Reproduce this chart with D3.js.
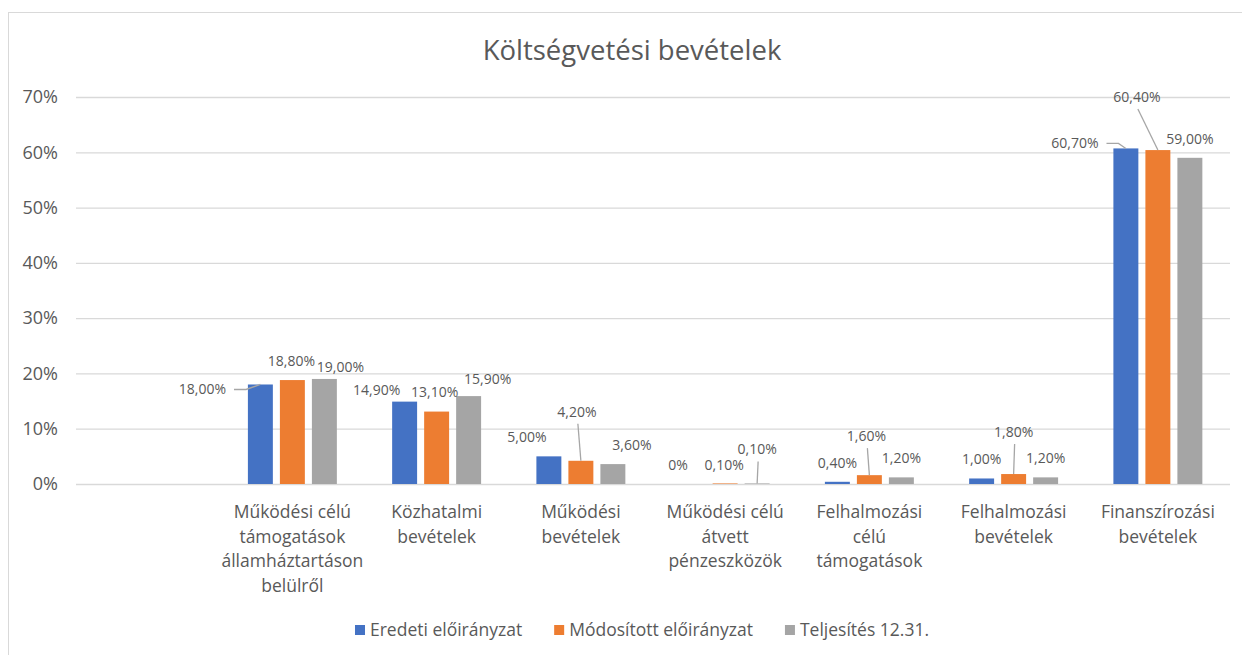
<!DOCTYPE html>
<html lang="hu">
<head>
  <meta charset="UTF-8">
  <title>Költségvetési bevételek</title>
  <style>
    body { margin: 0; background: #fff; }
    svg { display: block; font-family: "Open Sans", sans-serif; }
  </style>
  <script src="https://d3js.org/d3.v7.min.js"></script>
</head>
<body>
  <svg width="1242" height="655"></svg>
  <script>
    // adatok
    const categories = [
      "",
      "Működési célú\ntámogatások\nállamháztartáson\nbelülről",
      "Közhatalmi\nbevételek",
      "Működési\nbevételek",
      "Működési célú\nátvett\npénzeszközök",
      "Felhalmozási\ncélú\ntámogatások",
      "Felhalmozási\nbevételek",
      "Finanszírozási\nbevételek"
    ];
    const seriesNames = ["Eredeti előirányzat", "Módosított előirányzat", "Teljesítés 12.31."];
    const eredeti    = [null, 18.0, 14.9, 5.0, 0,   0.4, 1.0, 60.7];
    const modositott = [null, 18.8, 13.1, 4.2, 0.1, 1.6, 1.8, 60.4];
    const teljesites = [null, 19.0, 15.9, 3.6, 0.1, 1.2, 1.2, 59.0];
    const yTicks = [0, 10, 20, 30, 40, 50, 60, 70];

    // kézzel elmozgatott címkék eltolása (dx, dy) a sáv tetejéhez képest
    const labelShift = {
      "0-1": [-58, 5], "1-1": [-1, -19], "2-1": [16, -12],
      "0-2": [-28, -12], "1-2": [-2, -19], "2-2": [19, -17],
      "0-3": [-22, -19], "1-3": [-4, -49], "2-3": [19, -19],
      "0-4": [-15, -19], "1-4": [-1, -18], "2-4": [0, -34],
      "1-5": [-3, -39], "1-6": [0, -42],
      "0-7": [-51, -5], "1-7": [-21, -53]
    };

    const colors = ["#4472C4", "#ED7D31", "#A5A5A5"];
    const textColor = "#595959";

    const svg = d3.select("svg");
    const margin = { left: 76, right: 12, top: 97, bottom: 171 };
    const width = 1242, height = 655;

    // keret
    svg.append("rect")
      .attr("x", 8.5).attr("y", 12.5)
      .attr("width", 1300).attr("height", 700)
      .attr("fill", "#fff").attr("stroke", "#D9D9D9");

    const x0 = d3.scaleBand()
      .domain(d3.range(categories.length))
      .range([margin.left, width - margin.right]);

    const x1 = d3.scaleBand()
      .domain(d3.range(seriesNames.length))
      .range([0, 96])
      .paddingInner(0.22)
      .paddingOuter(0.11);

    const y = d3.scaleLinear()
      .domain([0, 70])
      .range([height - margin.bottom, margin.top]);

    // rácsvonalak
    svg.append("g")
      .selectAll("line")
      .data(yTicks)
      .join("line")
      .attr("x1", margin.left)
      .attr("x2", width - margin.right)
      .attr("y1", d => y(d) + 0.5)
      .attr("y2", d => y(d) + 0.5)
      .attr("stroke", "#D9D9D9")
      .attr("stroke-width", 1.3);

    // y tengely
    const yAxis = svg.append("g")
      .attr("transform", `translate(${margin.left - 18},0)`)
      .call(d3.axisLeft(y).tickValues(yTicks).tickFormat(d => d + "%").tickSize(0).tickPadding(0));
    yAxis.select(".domain").remove();
    yAxis.selectAll("text")
      .attr("fill", textColor)
      .style("font-size", "18px")
      .style("font-family", "Open Sans");

    // cím
    svg.append("text")
      .attr("x", 632)
      .attr("y", 60)
      .attr("text-anchor", "middle")
      .attr("fill", textColor)
      .style("font-size", "27.5px")
      .text("Költségvetési bevételek");

    const series = [eredeti, modositott, teljesites];
    const cells = [];
    series.forEach((vals, s) => {
      vals.forEach((v, c) => {
        if (v === null) return;
        cells.push({ s, c, v });
      });
    });

    const barX = d => x0(d.c) + x0.bandwidth() / 2 - 48 + x1(d.s);

    svg.append("g")
      .selectAll("rect")
      .data(cells)
      .join("rect")
      .attr("x", d => barX(d))
      .attr("y", d => y(d.v))
      .attr("width", x1.bandwidth())
      .attr("height", d => y(0) - y(d.v))
      .attr("fill", d => colors[d.s]);

    // adatcímkék
    const fmt = v => v === 0 ? "0%" : v.toFixed(2).replace(".", ",") + "%";
    const labelPos = d => {
      const sh = labelShift[d.s + "-" + d.c] || [0, -19];
      const bx = barX(d) + x1.bandwidth() / 2;
      return { bx, by: y(d.v), lx: bx + sh[0], ly: y(d.v) + sh[1] };
    };

    const labels = svg.append("g");
    cells.forEach(d => {
      const p = labelPos(d);
      const t = labels.append("text")
        .attr("x", p.lx)
        .attr("y", p.ly)
        .attr("dy", "0.35em")
        .attr("text-anchor", "middle")
        .attr("fill", textColor)
        .style("font-size", "14px")
        .text(fmt(d.v));
      const dx = p.lx - p.bx, dyy = p.ly - p.by;
      // vezetővonal az elmozgatott címkékhez
      if (dx < -40) {
        const w = t.node().getComputedTextLength();
        const sx = p.lx + w / 2 + 8;
        labels.append("polyline")
          .attr("points", `${sx},${p.ly} ${sx + 12},${p.ly} ${p.bx},${p.by}`)
          .attr("fill", "none")
          .attr("stroke", "#A6A6A6")
          .attr("stroke-width", 1.3);
      } else if (dyy < -30) {
        labels.append("line")
          .attr("x1", p.lx + 1).attr("y1", p.ly + 12)
          .attr("x2", p.bx).attr("y2", p.by)
          .attr("stroke", "#A6A6A6")
          .attr("stroke-width", 1.3);
      }
    });

    // kategóriafeliratok
    const catG = svg.append("g")
      .attr("fill", textColor)
      .style("font-size", "17.5px");
    categories.forEach((label, i) => {
      if (!label) return;
      const t = catG.append("text")
        .attr("text-anchor", "middle")
        .attr("x", x0(i) + x0.bandwidth() / 2)
        .attr("y", 518);
      label.split("\n").forEach((line, k) => {
        t.append("tspan")
          .attr("x", x0(i) + x0.bandwidth() / 2)
          .attr("dy", k === 0 ? 0 : 24.5)
          .text(line);
      });
    });

    // jelmagyarázat
    const legend = svg.append("g").style("font-size", "17.5px");
    let lx = 0;
    seriesNames.forEach((name, i) => {
      const g = legend.append("g").attr("transform", `translate(${lx},0)`);
      g.append("rect").attr("x", 0).attr("y", -11).attr("width", 10).attr("height", 10).attr("fill", colors[i]);
      const t = g.append("text").attr("x", 15).attr("y", 0).attr("fill", textColor).text(name);
      lx += 15 + t.node().getComputedTextLength() + 32;
    });
    const legW = lx - 32;
    legend.attr("transform", `translate(${642 - legW / 2},636)`);
  </script>
</body>
</html>
